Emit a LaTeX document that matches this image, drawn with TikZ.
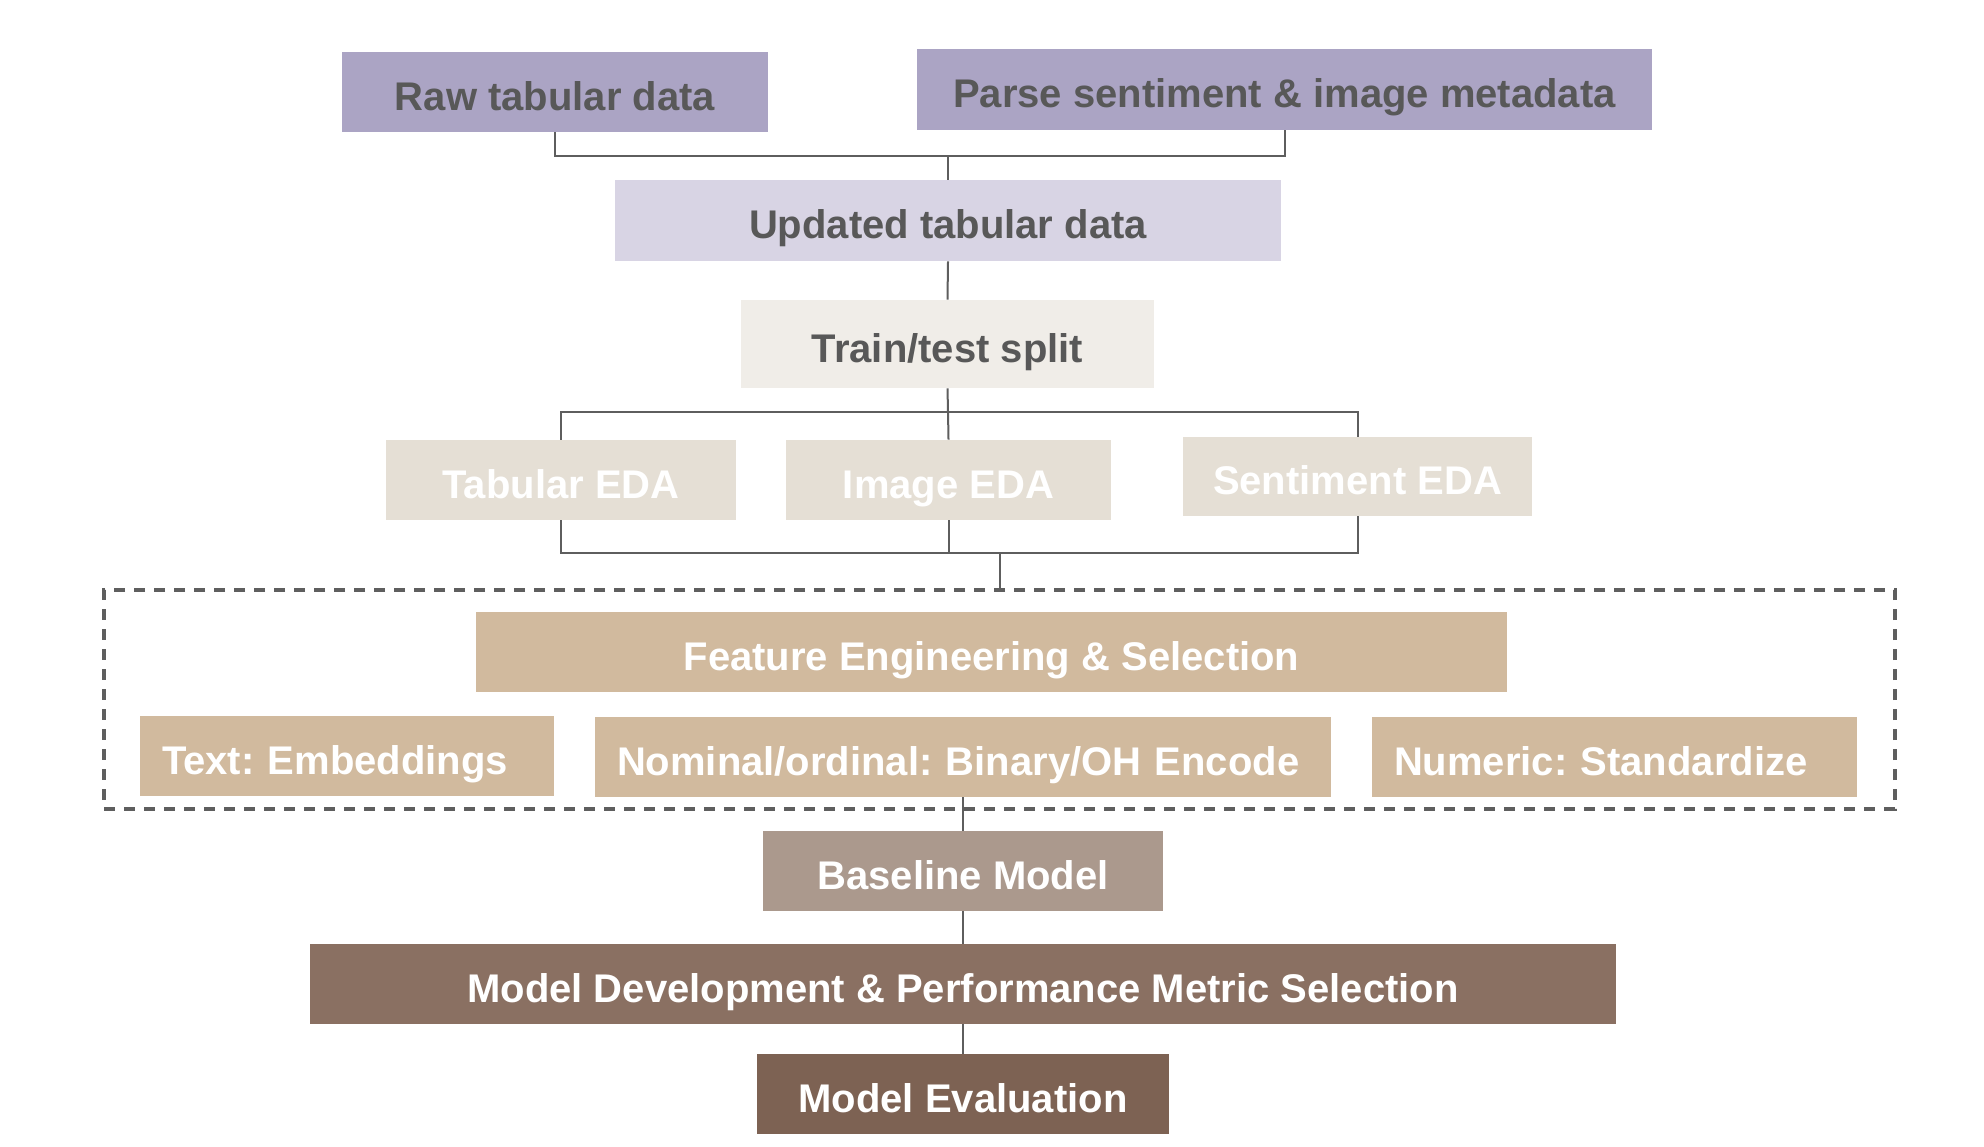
\documentclass[tikz,border=0pt]{standalone}
\usepackage{fontspec}
\setmainfont{Liberation Sans}
\frenchspacing
\definecolor{cLav}{HTML}{ABA4C4}
\definecolor{cLavL}{HTML}{D8D4E4}
\definecolor{cCream}{HTML}{F0EDE8}
\definecolor{cEda}{HTML}{E5DFD5}
\definecolor{cFe}{HTML}{D1BA9E}
\definecolor{cBase}{HTML}{AB998D}
\definecolor{cDev}{HTML}{8A7062}
\definecolor{cEval}{HTML}{7D6253}
\definecolor{cTxt}{HTML}{585858}
\definecolor{cLine}{HTML}{5E5E5E}
\begin{document}
\begin{tikzpicture}[x=0.5pt,y=-0.5pt,
  box/.style={rectangle, inner sep=0pt, draw=none, text height=18pt, text depth=0pt,
    font=\fontsize{20pt}{24pt}\selectfont\bfseries\frenchspacing},
  darktxt/.style={text=cTxt},
  lighttxt/.style={text=white},
  lefttxt/.style={inner xsep=11pt, align=left},
  conn/.style={draw=cLine, line width=1pt},
  dbox/.style={draw=cLine, line width=1.6pt, dash pattern=on 5.5pt off 4.5pt, inner sep=0pt}]
\useasboundingbox (0,0) rectangle (1984,1146);
% top
\node[box, darktxt, fill=cLav, minimum width=213pt, minimum height=40pt] (raw) at (555,92) {Raw tabular data};
\node[box, darktxt, fill=cLav, minimum width=367.5pt, minimum height=40.5pt] (parse) at (1284.5,89.5) {Parse sentiment \& image metadata};
\node[box, darktxt, fill=cLavL, minimum width=333pt, minimum height=40.5pt] (upd) at (948,220.5) {Updated tabular data};
\node[box, darktxt, fill=cCream, minimum width=206.5pt, minimum height=44pt] (train) at (947.5,344) {Train/test split};
% EDA
\node[box, lighttxt, fill=cEda, minimum width=175pt, minimum height=40pt] (tab) at (561,480) {Tabular EDA};
\node[box, lighttxt, fill=cEda, minimum width=162.5pt, minimum height=40pt] (img) at (948.5,480) {Image EDA};
\node[box, lighttxt, fill=cEda, minimum width=174.5pt, minimum height=39.5pt] (sent) at (1357.5,476.5) {Sentiment EDA};
% feature engineering group
\node[dbox, minimum width=895.5pt, minimum height=109.5pt] (grp) at (999.5,699.5) {};
\node[box, lighttxt, fill=cFe, minimum width=515.5pt, minimum height=40pt] (fe) at (991.5,652) {Feature Engineering \& Selection};
\node[box, lighttxt, lefttxt, fill=cFe, text width=185pt, minimum height=40pt] (txt) at (347,756) {Text: Embeddings};
\node[box, lighttxt, lefttxt, fill=cFe, text width=346pt, minimum height=40pt] (nom) at (963,757) {Nominal/ordinal: Binary/OH Encode};
\node[box, lighttxt, lefttxt, fill=cFe, text width=220.5pt, minimum height=40pt] (num) at (1614.5,757) {Numeric: Standardize};
% models
\node[box, lighttxt, fill=cBase, minimum width=200pt, minimum height=40pt] (base) at (963,871) {Baseline Model};
\node[box, lighttxt, fill=cDev, minimum width=653pt, minimum height=40pt] (dev) at (963,984) {Model Development \& Performance Metric Selection};
\node[box, lighttxt, fill=cEval, minimum width=206pt, minimum height=40pt] (eval) at (963,1094) {Model Evaluation};
% junctions
\coordinate (j1) at (948,156);
\coordinate (j2) at (948,412);
\coordinate (j3) at (1000,553);
% connectors
\draw[conn] (raw.south) |- (j1);
\draw[conn] (parse.south) |- (j1);
\draw[conn] (j1) -- (upd.north);
\draw[conn] (upd.south) -- (train.north);
\draw[conn] (train.south) -- (j2);
\draw[conn] (j2) -| (tab.north);
\draw[conn] (j2) -| (sent.north);
\draw[conn] (j2) -- (img.north);
\draw[conn] (tab.south) |- (j3);
\draw[conn] (sent.south) |- (j3);
\draw[conn] (img.south) -- (img.south |- j3);
\draw[conn] (j3) -- (j3 |- grp.north);
\draw[conn] (nom.south) -- (base.north);
\draw[conn] (base.south) -- (dev.north);
\draw[conn] (dev.south) -- (eval.north);
\end{tikzpicture}
\end{document}
